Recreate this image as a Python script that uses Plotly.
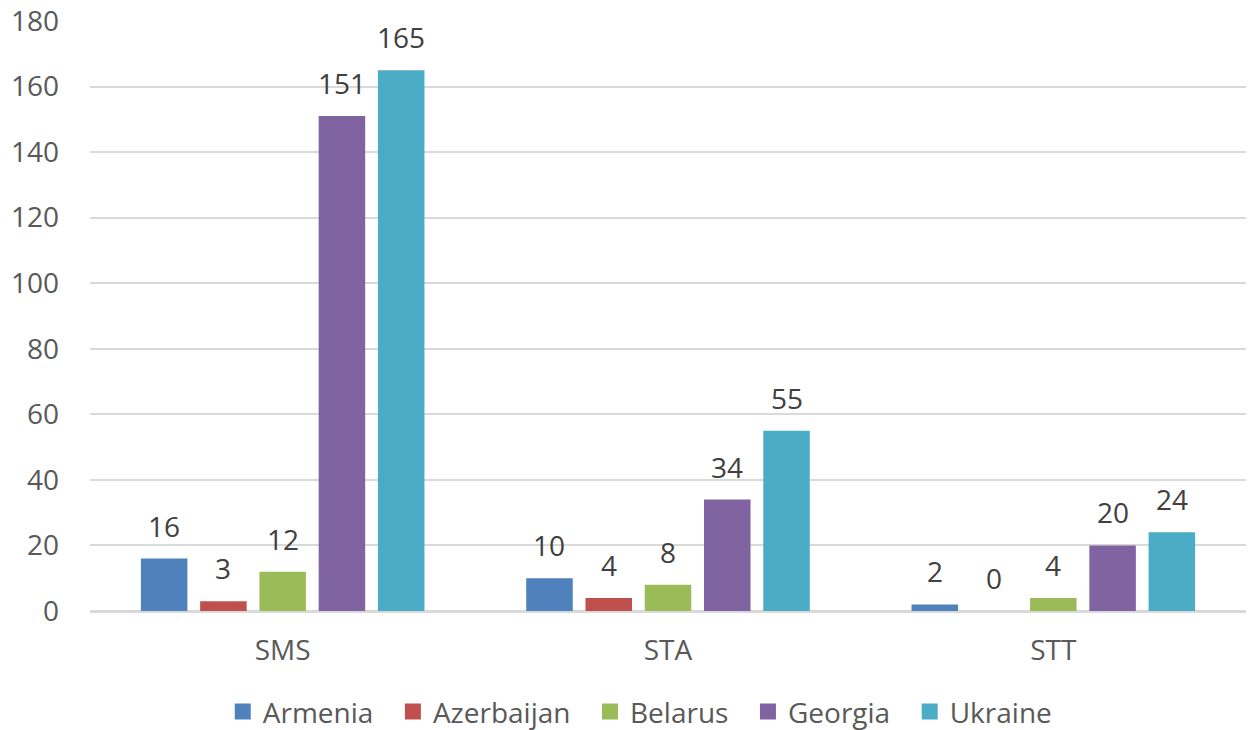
import plotly.graph_objects as go

categories = ["SMS", "STA", "STT"]
countries = ["Armenia", "Azerbaijan", "Belarus", "Georgia", "Ukraine"]
armenia = [16, 10, 2]
azerbaijan = [3, 4, 0]
belarus = [12, 8, 4]
georgia = [151, 34, 20]
ukraine = [165, 55, 24]
y_ticks = [0, 20, 40, 60, 80, 100, 120, 140, 160, 180]

series = [armenia, azerbaijan, belarus, georgia, ukraine]
colors = ["#4F81BD", "#C0504D", "#9BBB59", "#8064A2", "#4BACC6"]

FONT = "Open Sans"
FS = 28
bargap = 0.231
n = len(series)
slot = (1 - bargap) / n

fig = go.Figure()
for i, (name, vals, col) in enumerate(zip(countries, series, colors)):
    fig.add_trace(go.Bar(
        name=name, x=list(range(len(categories))), y=vals,
        marker=dict(color=col, line=dict(width=0)),
        showlegend=False,
    ))
    off = (i - (n - 1) / 2) * slot
    for j, v in enumerate(vals):
        fig.add_annotation(x=j + off, y=v, text=str(v), showarrow=False,
                           xref="x", yref="y", yanchor="bottom", yshift=12,
                           font=dict(family=FONT, size=FS, color="#404040"))
    label = name if i == n - 1 else name + "\u00a0\u00a0"
    fig.add_trace(go.Scatter(
        name=label, x=[None], y=[None], mode="markers",
        marker=dict(symbol="square", size=17, color=col), showlegend=True,
    ))

fig.update_layout(
    width=1250, height=730,
    margin=dict(l=90, r=4, t=21, b=119, autoexpand=False),
    paper_bgcolor="white", plot_bgcolor="white",
    barmode="group", bargap=bargap, bargroupgap=0.215,
    font=dict(family=FONT, size=FS, color="#595959"),
    legend=dict(orientation="h", x=0.476, xanchor="center", y=-0.171, yanchor="middle",
                font=dict(size=FS, color="#595959"), itemwidth=30, traceorder="normal"),
)
fig.update_yaxes(range=[0, 180], tickvals=y_ticks, showgrid=True, gridcolor="#D9D9D9", gridwidth=1.5,
                 zeroline=True, zerolinecolor="#D9D9D9", zerolinewidth=1.5, automargin=False,
                 ticklabeloverflow="allow",
                 showline=False, ticks="", ticklabelstandoff=30, tickfont=dict(size=FS, color="#595959"))
fig.update_xaxes(showline=True, linecolor="#D9D9D9", linewidth=1.5, ticks="", automargin=False,
                 tickvals=list(range(len(categories))), ticktext=categories,
                 range=[-0.5, len(categories) - 0.5],
                 ticklabelstandoff=14, tickfont=dict(size=FS, color="#595959"))

fig.write_html("out.html", config={"displayModeBar": False},
               post_script="document.body.style.margin='0';document.body.style.overflow='hidden';")
